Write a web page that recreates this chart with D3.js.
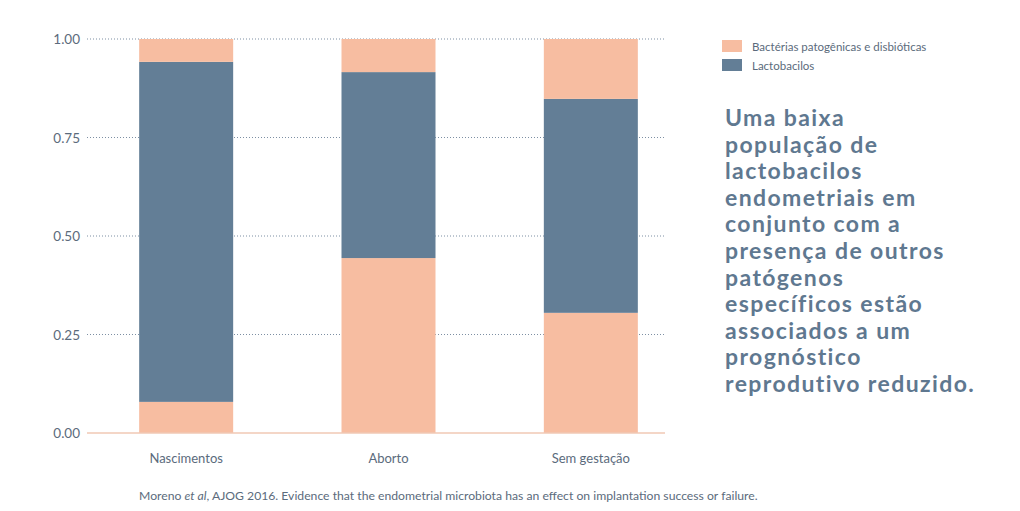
<!DOCTYPE html>
<html>
<head>
<meta charset="utf-8">
<script src="https://cdn.jsdelivr.net/npm/d3@7"></script>
<style>
  body { margin: 0; background: #fff; }
  svg { display: block; font-family: Lato, "Open Sans", sans-serif; }
</style>
</head>
<body>
<script>
var categories = ['Nascimentos', 'Aborto', 'Sem gestação'];
var bacteriaBottom = [0.079, 0.444, 0.305];   // patogênicas, parte de baixo
var lactobacilos   = [0.863, 0.472, 0.543];
var bacteriaTop    = [0.058, 0.084, 0.152];   // patogênicas, parte de cima
var ticks = [0, 0.25, 0.5, 0.75, 1];
var legendLabels = ['Bactérias patogênicas e disbióticas', 'Lactobacilos'];
var noteLines = ['Uma baixa', 'população de', 'lactobacilos', 'endometriais em',
  'conjunto com a', 'presença de outros', 'patógenos', 'específicos estão',
  'associados a um', 'prognóstico', 'reprodutivo reduzido.'];

var peach = '#f7bda1', blue = '#637e96', txt = '#5b6b7c';

var width = 1020, height = 511;
var svg = d3.select('body').append('svg')
  .attr('width', width).attr('height', height);

var x = d3.scalePoint().domain(categories).range([85, 692]).padding(0.5);
var y = d3.scaleLinear().domain([0, 1]).range([433, 39]);
var barW = 94;

// grid
svg.selectAll('.grid').data(ticks.filter(function(d) { return d > 0; }))
  .enter().append('line')
  .attr('x1', 87).attr('x2', 665)
  .attr('y1', function(d) { return y(d); }).attr('y2', function(d) { return y(d); })
  .attr('stroke', '#7d8fa3').attr('stroke-width', 1)
  .attr('stroke-dasharray', '1,2');

// stacked segments
var rows = categories.map(function(c, i) {
  return { cat: c, parts: [
    { y0: 0, y1: bacteriaBottom[i], color: peach },
    { y0: bacteriaBottom[i], y1: bacteriaBottom[i] + lactobacilos[i], color: blue },
    { y0: bacteriaBottom[i] + lactobacilos[i], y1: bacteriaBottom[i] + lactobacilos[i] + bacteriaTop[i], color: peach }
  ]};
});

var g = svg.selectAll('.bar').data(rows).enter().append('g');
g.selectAll('rect').data(function(d) { return d.parts.map(function(p) { p.cat = d.cat; return p; }); })
  .enter().append('rect')
  .attr('x', function(d) { return x(d.cat) - barW / 2; })
  .attr('width', barW)
  .attr('y', function(d) { return y(d.y1); })
  .attr('height', function(d) { return y(d.y0) - y(d.y1); })
  .attr('fill', function(d) { return d.color; });

// baseline
svg.append('line')
  .attr('x1', 87).attr('x2', 665).attr('y1', y(0)).attr('y2', y(0))
  .attr('stroke', '#f0c9b4').attr('stroke-width', 1.5);

// y tick labels
svg.selectAll('.yt').data(ticks).enter().append('text')
  .attr('x', 80).attr('y', function(d) { return y(d) + 5; })
  .attr('text-anchor', 'end')
  .attr('font-size', 13.5).attr('fill', txt)
  .text(function(d) { return d3.format('.2f')(d); });

// x labels
svg.selectAll('.xt').data(categories).enter().append('text')
  .attr('x', function(d) { return x(d); }).attr('y', 463)
  .attr('text-anchor', 'middle')
  .attr('font-size', 13).attr('fill', txt)
  .text(function(d) { return d; });

// legend
var lg = svg.selectAll('.lg').data(legendLabels).enter().append('g')
  .attr('transform', function(d, i) { return 'translate(722,' + (40 + i * 19) + ')'; });
lg.append('rect').attr('width', 20).attr('height', 12)
  .attr('fill', function(d, i) { return i === 0 ? peach : blue; });
lg.append('text').attr('x', 30).attr('y', 10.5)
  .attr('font-size', 11.5).attr('fill', txt)
  .text(function(d) { return d; });

// side note
svg.append('text')
  .attr('x', 725).attr('y', 126)
  .attr('font-size', 23).attr('font-weight', 'bold')
  .attr('fill', '#5f7890').attr('letter-spacing', 1.4)
  .selectAll('tspan').data(noteLines).enter().append('tspan')
  .attr('x', 725).attr('dy', function(d, i) { return i === 0 ? 0 : 26.6; })
  .text(function(d) { return d; });

// source
var src = svg.append('text')
  .attr('x', 139).attr('y', 500)
  .attr('font-size', 12.2).attr('fill', txt);
src.append('tspan').text('Moreno ');
src.append('tspan').attr('font-style', 'italic').text('et al');
src.append('tspan').text(', AJOG 2016. Evidence that the endometrial microbiota has an effect on implantation success or failure.');
</script>
</body>
</html>
